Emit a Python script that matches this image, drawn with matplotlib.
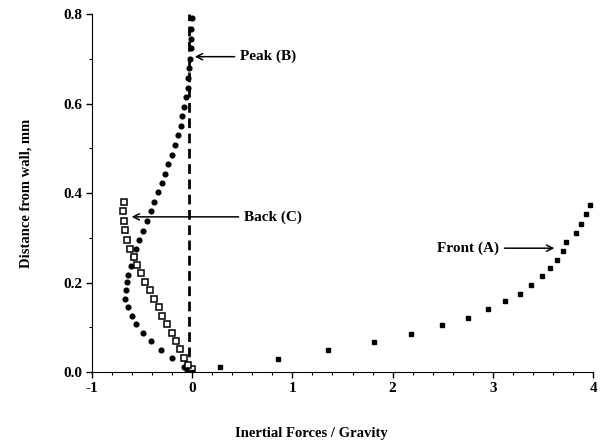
import matplotlib
matplotlib.use("Agg")
import matplotlib.pyplot as plt
from matplotlib.ticker import MultipleLocator

plt.rcParams["font.family"] = ["Liberation Serif", "DejaVu Serif"]
plt.rcParams["font.weight"] = "bold"
plt.rcParams["axes.labelweight"] = "bold"
plt.rcParams["axes.unicode_minus"] = False

# front (A): filled squares
front_x = [0.0, 0.28, 0.86, 1.36, 1.81, 2.18, 2.49, 2.75, 2.95, 3.12, 3.27,
           3.38, 3.49, 3.57, 3.64, 3.70, 3.73, 3.83, 3.88, 3.93, 3.97]
front_y = [0.0, 0.011, 0.030, 0.049, 0.068, 0.086, 0.105, 0.122, 0.141, 0.159,
           0.175, 0.195, 0.214, 0.232, 0.251, 0.270, 0.290, 0.310, 0.331, 0.354, 0.374]

# peak (B): filled circles
peak_x = [-0.05, -0.08, -0.20, -0.31, -0.41, -0.485, -0.56, -0.60, -0.635, -0.67,
          -0.66, -0.65, -0.635, -0.61, -0.585, -0.56, -0.53, -0.485, -0.45, -0.41,
          -0.375, -0.335, -0.30, -0.27, -0.235, -0.195, -0.17, -0.135, -0.11,
          -0.095, -0.077, -0.06, -0.043, -0.037, -0.027, -0.02, -0.01, -0.01,
          -0.01, -0.005]
peak_y = [0.005, 0.011, 0.031, 0.049, 0.069, 0.088, 0.108, 0.125, 0.146, 0.164,
          0.184, 0.201, 0.218, 0.238, 0.257, 0.276, 0.295, 0.316, 0.337, 0.360,
          0.380, 0.402, 0.422, 0.443, 0.465, 0.486, 0.507, 0.530, 0.551, 0.572,
          0.593, 0.615, 0.636, 0.657, 0.680, 0.700, 0.725, 0.745, 0.766, 0.792]

# back (C): open squares
back_x = [0.0, -0.037, -0.08, -0.12, -0.16, -0.20, -0.246, -0.296, -0.326, -0.375,
          -0.42, -0.47, -0.51, -0.545, -0.58, -0.62, -0.65, -0.668, -0.675, -0.685,
          -0.675]
back_y = [0.008, 0.016, 0.031, 0.051, 0.069, 0.088, 0.107, 0.126, 0.146, 0.163,
          0.183, 0.202, 0.221, 0.239, 0.258, 0.275, 0.295, 0.318, 0.338, 0.361, 0.381]

zero_x = -0.025

fig = plt.figure(figsize=(6.06, 4.43), dpi=100)
ax = fig.add_axes([0.1513, 0.160, 0.8277, 0.808])

ax.plot([zero_x, zero_x], [0, 0.8], color="black", lw=2.0, ls=(0, (3.5, 2)), zorder=1)
ax.plot(peak_x, peak_y, "o", color="black", ms=3.4, zorder=2)
ax.plot(back_x, back_y, "s", mfc="white", mec="black", mew=1.1, ms=5.0, zorder=3)
ax.plot(front_x, front_y, "s", color="black", ms=3.3, zorder=3)

arrow = dict(arrowstyle="->", color="black", lw=1.1)
ax.annotate("Peak (B)", xy=(0.0, 0.705), xytext=(0.48, 0.705), va="center",
            ha="left", fontsize=11, arrowprops=arrow)
ax.annotate("Back (C)", xy=(-0.63, 0.347), xytext=(0.52, 0.347), va="center",
            ha="left", fontsize=11, arrowprops=arrow)
ax.annotate("Front (A)", xy=(3.64, 0.277), xytext=(3.06, 0.277), va="center",
            ha="right", fontsize=11, arrowprops=arrow)

ax.set_xlim(-1, 4)
ax.set_ylim(0, 0.8)
ax.xaxis.set_major_locator(MultipleLocator(1))
ax.xaxis.set_minor_locator(MultipleLocator(0.2))
ax.yaxis.set_major_locator(MultipleLocator(0.2))
ax.yaxis.set_minor_locator(MultipleLocator(0.1))
ax.set_xticks([-1, 0, 1, 2, 3, 4])
ax.set_xticklabels(["-1", "0", "1", "2", "3", "4"])
ax.set_yticks([0, 0.2, 0.4, 0.6, 0.8])
ax.set_yticklabels(["0.0", "0.2", "0.4", "0.6", "0.8"])
ax.tick_params(which="major", length=4, width=1, labelsize=11, pad=3)
ax.tick_params(which="minor", length=2, width=0.8)
ax.spines["top"].set_visible(False)
ax.spines["right"].set_visible(False)

ax.set_ylabel("Distance from wall, mm", fontsize=10.5, labelpad=22)
fig.text(311 / 606, 1 - 433 / 443, "Inertial Forces / Gravity", ha="center",
         va="center", fontsize=10.5)

fig.savefig("out.png", dpi=100)
